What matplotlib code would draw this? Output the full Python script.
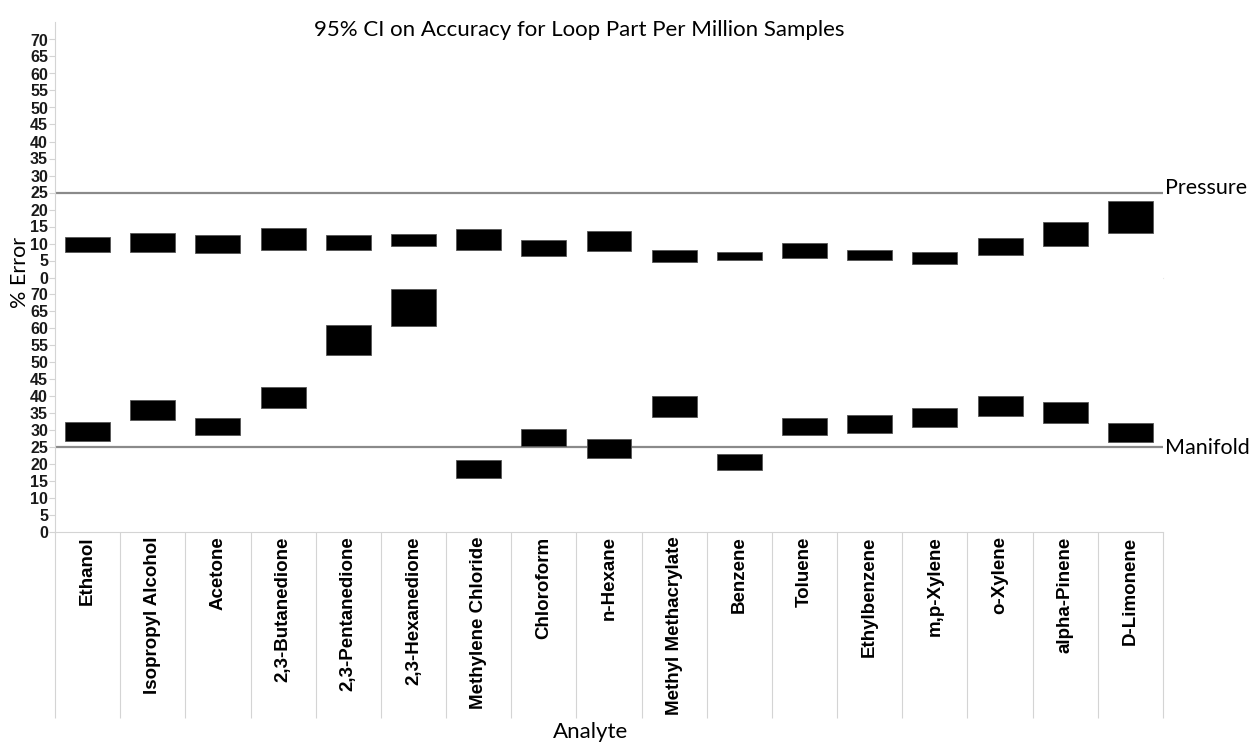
import numpy as np
import matplotlib.pyplot as plt
import matplotlib.transforms as mtransforms

analytes = ['Ethanol', 'Isopropyl Alcohol', 'Acetone', '2,3-Butanedione',
            '2,3-Pentanedione', '2,3-Hexanedione', 'Methylene Chloride',
            'Chloroform', 'n-Hexane', 'Methyl Methacrylate', 'Benzene',
            'Toluene', 'Ethylbenzene', 'm,p-Xylene', 'o-Xylene',
            'alpha-Pinene', 'D-Limonene']

# 95% CI on % error, lower / upper bounds
pressure_lo = [7.4, 7.6, 7.2, 8.2, 8.1, 9.2, 8.1, 6.2, 7.9, 4.6, 5.1, 5.8, 5.1, 4.1, 6.7, 9.2, 13.0]
pressure_hi = [11.9, 13.1, 12.4, 14.5, 12.4, 12.8, 14.2, 10.9, 13.6, 8.2, 7.4, 10.1, 8.2, 7.4, 11.7, 16.4, 22.4]
manifold_lo = [27.0, 33.2, 28.7, 36.6, 52.3, 60.7, 15.9, 25.5, 21.9, 34.0, 18.4, 28.7, 29.1, 31.0, 34.2, 32.3, 26.5]
manifold_hi = [32.4, 39.0, 33.6, 42.8, 61.1, 71.7, 21.4, 30.5, 27.4, 40.2, 23.0, 33.7, 34.6, 36.5, 40.2, 38.3, 32.2]

limit = 25
yticks = list(range(0, 75, 5))

W, H = 1257, 743
fig = plt.figure(figsize=(W / 100, H / 100), dpi=100)

left, right = 55 / W, 1163 / W
ax_top = fig.add_axes([left, (H - 277.5) / H, right - left, 255 / H])
ax_bot = fig.add_axes([left, (H - 532.3) / H, right - left, 254.8 / H])

x = np.arange(len(analytes))
grid_col = '#d4d4d4'
label_font = 'Lato'


def panel(ax, lo, hi, name, dy):
    lo = np.array(lo)
    hi = np.array(hi)
    ax.bar(x, hi - lo, bottom=lo, width=0.69, color='black',
           edgecolor='#555555', linewidth=0.6, zorder=3)
    ax.axhline(limit, color='#8a8a8a', linewidth=1.6, zorder=2)
    ax.set_xlim(-0.5, len(analytes) - 0.5)
    ax.set_ylim(0, 75)
    ax.set_yticks(yticks)
    ax.set_yticklabels([str(t) for t in yticks], fontfamily='Liberation Sans',
                       fontweight='bold', fontsize=11.5)
    ax.tick_params(axis='y', length=4.5, width=0.8, color=grid_col, pad=0.5,
                   labelcolor='#1a1a1a')
    for s in ['top', 'right']:
        ax.spines[s].set_visible(False)
    ax.spines['left'].set_color(grid_col)
    ax.spines['bottom'].set_color('#e8e8e8')
    tr = mtransforms.blended_transform_factory(ax.transAxes, ax.transData)
    ax.text(1.002, limit + dy, name, transform=tr, ha='left', va='center',
            fontsize=15.5, fontfamily=label_font, color='black')


panel(ax_top, pressure_lo, pressure_hi, 'Pressure', 1.3)
panel(ax_bot, manifold_lo, manifold_hi, 'Manifold', -0.3)

ax_top.set_xticks([])
ax_bot.spines['bottom'].set_color(grid_col)

# category labels with long separators below the lower panel
ax_bot.set_xticks(x)
ax_bot.set_xticklabels(analytes, rotation=90, fontfamily='Liberation Sans',
                       fontweight='bold', fontsize=13.5)
ax_bot.tick_params(axis='x', which='major', length=0, pad=3)
ax_bot.set_xticks(np.arange(len(analytes) + 1) - 0.5, minor=True)
ax_bot.tick_params(axis='x', which='minor', length=134, width=0.8,
                   color=grid_col, direction='out')

fig.text(579 / W, 1 - 30 / H, '95% CI on Accuracy for Loop Part Per Million Samples',
         ha='center', va='center', fontsize=16, fontfamily=label_font)
fig.text(20 / W, 1 - 272 / H, '% Error', rotation=90, ha='center', va='center',
         fontsize=15.5, fontfamily=label_font)
fig.text(591 / W, 1 - 732 / H, 'Analyte', ha='center', va='center',
         fontsize=16, fontfamily=label_font)

fig.savefig('out.png', dpi=100)
